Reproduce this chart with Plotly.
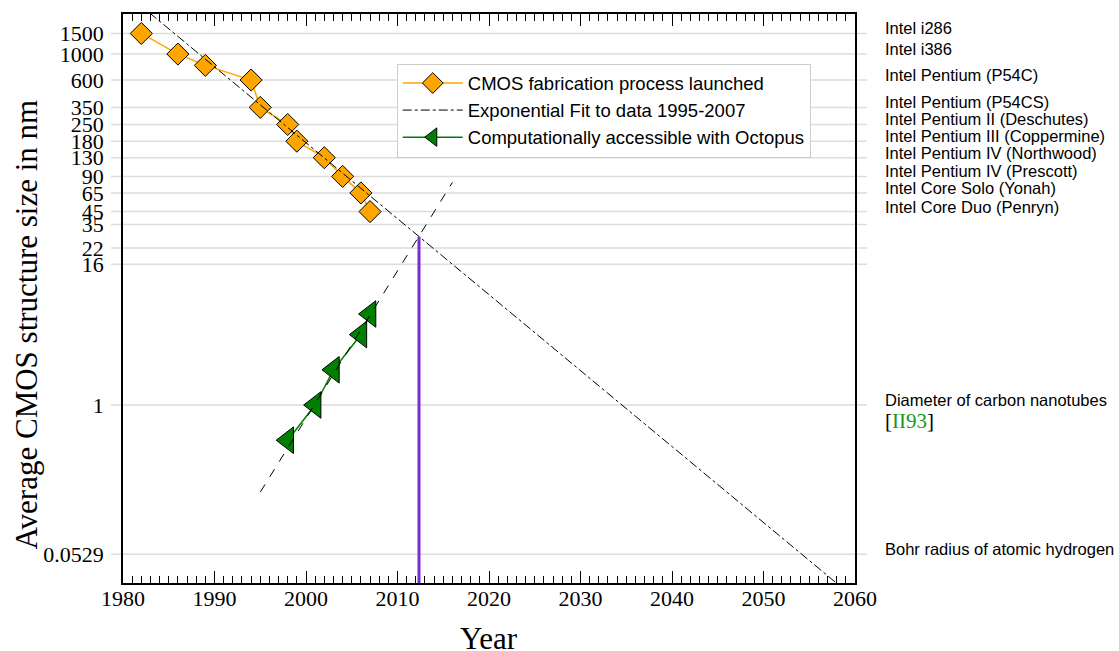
import math
import plotly.graph_objects as go

# ---- data ----
cmos_years = [1982, 1986, 1989, 1994, 1995, 1998, 1999, 2002, 2004, 2006, 2007]
cmos_nm = [1500, 1000, 800, 600, 350, 250, 180, 130, 90, 65, 45]

octo_years = [1998, 2001, 2003, 2006, 2007]
octo_nm = [0.5, 1, 2, 4, 6]

fit_years = [1982.9, 2058.1]
fit_nm = [2250, 0.0295]

octo_fit_years = [1995, 2016]
octo_fit_nm = [0.18, 80]

cross_years = [2012.35, 2012.35]
cross_nm = [0.02, 27.4]

ytick_vals = [0.0529, 1, 16, 22, 35, 45, 65, 90, 130, 180, 250, 350, 600, 1000, 1500]
ytick_text = ["0.0529", "1", "16", "22", "35", "45", "65", "90", "130", "180",
              "250", "350", "600", "1000", "1500"]

label_vals = [1500, 1000, 600, 350, 250, 180, 130, 90, 65, 45, 1, 0.0529]
label_texts = ["Intel i286", "Intel i386", "Intel Pentium (P54C)", "Intel Pentium (P54CS)",
               "Intel Pentium II (Deschutes)", "Intel Pentium III (Coppermine)",
               "Intel Pentium IV (Northwood)", "Intel Pentium IV (Prescott)",
               "Intel Core Solo (Yonah)", "Intel Core Duo (Penryn)",
               "Diameter of carbon nanotubes", "Bohr radius of atomic hydrogen"]

x_range = [1980, 2060]
y_range_nm = [0.0301, 2200]

SERIF = "Liberation Serif, Times New Roman, serif"
SANS = "Liberation Sans, Arial, sans-serif"

fig = go.Figure()

fig.add_trace(go.Scatter(
    x=cmos_years, y=cmos_nm, mode="lines+markers",
    name="CMOS fabrication process launched", legendrank=1,
    line=dict(color="#FFA500", width=1.5),
    marker=dict(symbol="diamond", size=17, color="#FFA500",
                line=dict(color="black", width=1)),
))
fig.add_trace(go.Scatter(
    x=octo_years, y=octo_nm, mode="lines+markers",
    name="Computationally accessible with Octopus", legendrank=3,
    line=dict(color="#008000", width=1.5),
    marker=dict(symbol="triangle-left", size=23, color="#008000",
                line=dict(color="black", width=1)),
))
fig.add_trace(go.Scatter(
    x=fit_years, y=fit_nm, mode="lines",
    name="Exponential Fit to data 1995-2007", legendrank=2,
    line=dict(color="black", width=1, dash="dashdot"),
))
fig.add_trace(go.Scatter(
    x=octo_fit_years, y=octo_fit_nm, mode="lines", showlegend=False,
    line=dict(color="black", width=1, dash="dash"),
))
fig.add_trace(go.Scatter(
    x=cross_years, y=cross_nm, mode="lines", showlegend=False,
    line=dict(color="#7B2CCF", width=3),
))

# horizontal grid lines extending slightly beyond the axes
for v in ytick_vals:
    fig.add_shape(type="line", xref="paper", yref="y", x0=-0.0164, x1=1.0164,
                  y0=v, y1=v, line=dict(color="#dddddd", width=1.5), layer="below")

# right-hand labels (annotation y on a log axis is given in log10 units)
for v, t in zip(label_vals, label_texts):
    fig.add_annotation(xref="paper", yref="y", x=1.038, y=math.log10(v), text=t,
                       showarrow=False, xanchor="left", yanchor="middle", yshift=5,
                       font=dict(family=SANS, size=16.5, color="black"))
fig.add_annotation(xref="paper", yref="y", x=1.038, y=math.log10(1),
                   text="[<span style='color:#1a9a1a'>II93</span>]", showarrow=False,
                   xanchor="left", yanchor="middle", yshift=-16,
                   font=dict(family=SERIF, size=21, color="black"))

# axis titles
fig.add_annotation(xref="paper", yref="paper", x=-0.132, y=0.455, textangle=-90,
                   text="Average CMOS structure size in nm", showarrow=False,
                   xanchor="center", yanchor="middle",
                   font=dict(family=SERIF, size=31, color="black"))
fig.add_annotation(xref="paper", yref="paper", x=0.5, y=-0.097,
                   text="Year", showarrow=False,
                   xanchor="center", yanchor="middle",
                   font=dict(family=SERIF, size=31, color="black"))

fig.update_xaxes(
    range=x_range, dtick=10, tick0=1980, automargin=False,
    ticks="inside", ticklen=12, tickwidth=1, tickcolor="black",
    minor=dict(dtick=1, ticks="inside", ticklen=7, tickwidth=1, tickcolor="black", showgrid=False),
    showline=True, linecolor="black", linewidth=1.5, mirror="ticks",
    showgrid=False, zeroline=False, ticklabelstandoff=-5,
    tickfont=dict(family=SERIF, size=22, color="black"),
)
fig.update_yaxes(
    type="log", range=[math.log10(y_range_nm[0]), math.log10(y_range_nm[1])],
    tickmode="array", tickvals=ytick_vals, ticktext=ytick_text, automargin=False,
    ticks="", showline=True, linecolor="black", linewidth=1.5, mirror=True,
    showgrid=False, zeroline=False, ticklabelstandoff=13,
    tickfont=dict(family=SERIF, size=22, color="black"),
)

fig.update_layout(
    width=1119, height=651,
    margin=dict(l=123, r=264, t=14, b=68),
    paper_bgcolor="white", plot_bgcolor="white",
    legend=dict(x=0.374, y=0.913, xanchor="left", yanchor="top",
                bgcolor="white", bordercolor="#cccccc", borderwidth=1,
                font=dict(family=SANS, size=18.5, color="black"),
                itemwidth=60, tracegroupgap=0),
)

fig.write_html("out.html")
